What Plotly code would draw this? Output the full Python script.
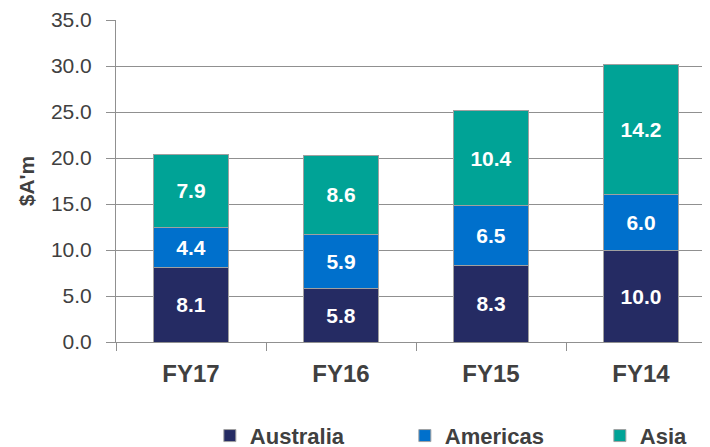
import plotly.graph_objects as go

categories = ["FY17", "FY16", "FY15", "FY14"]
australia = [8.1, 5.8, 8.3, 10.0]
americas = [4.4, 5.9, 6.5, 6.0]
asia = [7.9, 8.6, 10.4, 14.2]
y_ticks = [0, 5, 10, 15, 20, 25, 30, 35]

series = [
    ("Australia", australia, "#252B63"),
    ("Americas", americas, "#0070CC"),
    ("Asia", asia, "#00A396"),
]

FONT = "Liberation Sans, Arial, sans-serif"

fig = go.Figure()
for name, vals, col in series:
    fig.add_trace(go.Bar(
        x=categories, y=vals, name=name,
        marker=dict(color=col, line=dict(color="#A0A0A0", width=1)),
        text=[f"{v:.1f}" for v in vals],
        textposition="inside", insidetextanchor="middle",
        textfont=dict(family=FONT, size=21, color="white", weight="bold"),
    ))

# the page body has an 8px default margin, so the figure is offset by (8, 8)
fig.update_layout(
    barmode="stack", bargap=0.5,
    width=710, height=447,
    margin=dict(l=108, r=8, t=12, b=113, autoexpand=False),
    plot_bgcolor="white", paper_bgcolor="white",
    font=dict(family=FONT, color="#404040"),
    uniformtext=dict(minsize=21, mode="show"),
    legend=dict(orientation="h", x=0.158, y=-0.226, xanchor="left", yanchor="top",
                font=dict(family=FONT, size=22, color="#404040", weight="bold"),
                entrywidth=150, traceorder="normal"),
    showlegend=True,
)
fig.update_xaxes(
    range=[-0.5, 3.46], tickson="boundaries", ticks="outside", ticklen=8,
    tickcolor="#909090", showline=True, linecolor="#909090", linewidth=1,
    tickfont=dict(family=FONT, size=24, weight="bold", color="#404040"), showgrid=False,
    ticklabelstandoff=10, automargin=False,
)
fig.update_yaxes(
    range=[0, 35], tickvals=y_ticks, ticktext=[f"{v:.1f}" for v in y_ticks],
    ticks="outside", ticklen=9, tickcolor="#909090",
    showline=True, linecolor="#909090", linewidth=1,
    showgrid=True, gridcolor="#909090", gridwidth=1,
    tickfont=dict(family=FONT, size=21, color="#404040"), ticklabelstandoff=10,
    title=dict(text="$A'm", font=dict(family=FONT, size=21, weight="bold", color="#404040"), standoff=10),
    zeroline=False, automargin=False,
)
fig.write_html("out.html")
